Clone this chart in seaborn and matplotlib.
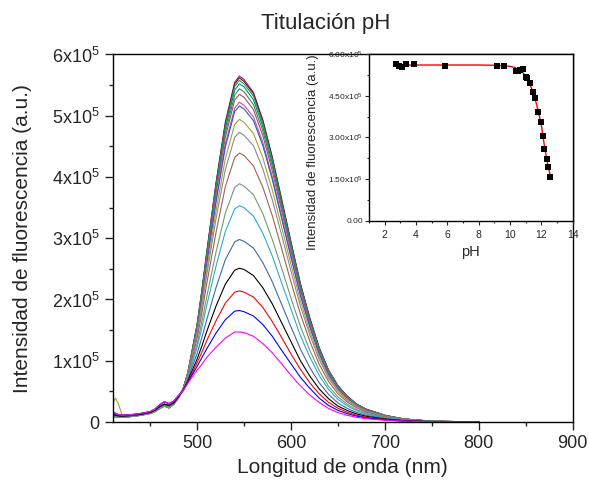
import pandas as pd
import seaborn as sns
import matplotlib.pyplot as plt
from matplotlib.ticker import MultipleLocator, FuncFormatter

# --- emission spectra (intensity in units of 1e3 counts) ---
base_nm = [410, 413, 416, 420, 430, 440, 450, 455, 460, 465, 470, 475, 480]
band_nm = [485, 490, 495, 500, 505, 510, 520, 530, 540, 545, 550, 560, 570, 580,
           590, 600, 610, 620, 630, 640, 650, 660, 670, 680, 700, 720, 740, 760, 780, 800]

# low-wavelength part of the spectra, a few overlapping variants
baselines = {
    "hi":    [17, 14, 12, 11, 12, 14, 17, 21, 28, 33, 30, 34, 43],
    "mid":   [13, 11, 10, 9.5, 10.5, 12.5, 15.5, 19, 25, 29, 27, 31, 41],
    "lo":    [9, 8, 7.5, 7.5, 9, 11, 14, 17, 22, 26, 23, 29, 39],
    "spike": [30, 39, 30, 12, 10, 12, 15, 18, 24, 28, 25, 30, 40],
}

band_values = [
    [54, 80, 120, 160, 215, 275, 390, 490, 555, 565, 559, 538, 493, 433, 364, 294, 226, 170, 121, 85, 59, 42, 29, 21, 11, 5, 2.5, 1.1, 0.6, 0.3],
    [54, 80, 119, 159, 214, 274, 388, 487, 552, 562, 556, 536, 491, 431, 362, 292, 225, 169, 121, 84, 59, 42, 29, 21, 11, 5, 2.5, 1.1, 0.6, 0.3],
    [54, 80, 119, 159, 213, 272, 385, 484, 548, 558, 552, 532, 487, 428, 359, 290, 223, 167, 120, 84, 59, 41, 29, 21, 10.6, 5, 2.5, 1.1, 0.6, 0.3],
    [54, 80, 118, 158, 211, 270, 382, 479, 542, 552, 547, 526, 482, 423, 356, 287, 221, 166, 119, 83, 58, 41, 29, 20, 10.5, 5, 2.5, 1.1, 0.6, 0.3],
    [54, 79, 117, 156, 209, 267, 376, 472, 534, 544, 539, 518, 475, 417, 350, 283, 218, 163, 117, 82, 57, 40, 28, 20, 10.3, 4.9, 2.4, 1.1, 0.5, 0.3],
    [54, 79, 117, 155, 206, 263, 371, 465, 526, 535, 530, 510, 467, 410, 345, 278, 214, 161, 115, 80, 56, 40, 28, 20, 10.2, 4.8, 2.4, 1.1, 0.5, 0.3],
    [53, 78, 115, 152, 202, 258, 362, 454, 513, 522, 517, 498, 456, 400, 336, 271, 209, 157, 112, 78, 55, 39, 27, 19, 9.9, 4.7, 2.3, 1.0, 0.5, 0.3],
    [53, 78, 114, 151, 201, 255, 358, 449, 507, 516, 511, 492, 451, 396, 332, 268, 206, 155, 111, 77, 54, 38, 27, 19, 9.8, 4.6, 2.3, 1.0, 0.5, 0.3],
    [53, 77, 112, 147, 194, 246, 344, 430, 486, 494, 489, 471, 431, 379, 318, 257, 198, 148, 106, 74, 52, 37, 26, 18, 9.4, 4.4, 2.2, 1.0, 0.5, 0.2],
    [53, 77, 110, 143, 188, 238, 331, 412, 465, 473, 468, 451, 413, 363, 305, 246, 189, 142, 102, 71, 50, 35, 25, 17.5, 9.0, 4.3, 2.1, 0.9, 0.5, 0.2],
    [53, 75, 106, 137, 178, 224, 309, 384, 432, 439, 435, 418, 383, 337, 283, 228, 176, 132, 94, 66, 46, 32.5, 23, 16, 8.3, 4.0, 2.0, 0.9, 0.4, 0.2],
    [53, 73, 101, 128, 164, 203, 277, 341, 383, 389, 385, 371, 340, 298, 251, 202, 156, 117, 84, 58, 41, 29, 20, 14.4, 7.4, 3.5, 1.8, 0.8, 0.4, 0.2],
    [52, 72, 97, 122, 154, 189, 254, 311, 348, 353, 350, 336, 308, 271, 227, 184, 141, 106, 76, 53, 37, 26, 18.4, 13.1, 6.7, 3.2, 1.6, 0.7, 0.4, 0.2],
    [52, 69, 91, 112, 138, 166, 219, 265, 294, 298, 295, 284, 260, 229, 192, 155, 119, 89, 64, 45, 31, 22, 15.5, 11, 5.7, 2.7, 1.3, 0.6, 0.3, 0.15],
    [52, 67, 85, 103, 124, 147, 189, 225, 248, 251, 249, 239, 219, 193, 162, 131, 100, 75, 54, 38, 26, 18.6, 13.1, 9.3, 4.8, 2.3, 1.1, 0.5, 0.25, 0.13],
    [51, 66, 81, 97, 114, 132, 165, 194, 212, 214, 212, 204, 187, 164, 138, 111, 86, 64, 46, 32, 22.5, 15.8, 11.1, 7.9, 4.1, 1.9, 1.0, 0.4, 0.2, 0.1],
    [51, 64, 78, 91, 105, 119, 145, 167, 181, 182, 180, 173, 159, 140, 117, 95, 73, 55, 39, 27, 19, 13.5, 9.5, 6.7, 3.5, 1.6, 0.8, 0.4, 0.2, 0.1],
    [51, 63, 74, 85, 94, 105, 122, 137, 147, 147, 146, 140, 128, 113, 95, 76, 59, 44, 32, 22, 15.4, 10.9, 7.6, 5.4, 2.8, 1.3, 0.7, 0.3, 0.15, 0.07],
]
band_base = ["mid", "mid", "lo", "mid", "lo", "mid", "mid", "lo", "spike", "lo",
             "mid", "lo", "mid", "mid", "mid", "hi", "hi", "hi"]
band_colors = ["#7b2fbe", "#8b0000", "#1fa040", "#008b8b", "#3c8c3c", "#a05080",
               "#d04f8f", "#3355cc", "#a3a336", "#8c8c8c", "#a0624f", "#6f9a73",
               "#2ea8d6", "#3d6aa8", "#000000", "#ff0000", "#0000ff", "#ff00ff"]

# --- inset: titration ---
ph = [2.74, 2.89, 3.1, 3.33, 3.87, 5.87, 9.2, 9.64, 10.4, 10.5, 10.63, 10.8,
      11.0, 11.1, 11.3, 11.46, 11.57, 11.78, 11.97, 12.1, 12.2, 12.33, 12.45, 12.58]
ph_int = [566, 559, 556, 566, 565, 560, 558, 557, 540, 541, 544, 546,
          520, 514, 496, 466, 444, 393, 356, 305, 260, 221, 194, 158]
fit_ph = [2.8, 4, 6, 8, 9, 9.5, 10, 10.3, 10.6, 10.8, 11.0, 11.2, 11.4, 11.6,
          11.8, 12.0, 12.2, 12.4, 12.58]
fit_int = [562, 562, 562, 562, 561, 560, 557, 553, 545, 536, 522, 502, 474, 440,
           396, 345, 268, 205, 160]

rows = []
for i, vals in enumerate(band_values):
    for nm, v in zip(base_nm + band_nm, baselines[band_base[i]] + vals):
        rows.append({"curve": f"s{i:02d}", "nm": nm, "I": v * 1e3})
spec = pd.DataFrame(rows)
titr = pd.DataFrame({"pH": ph, "I": [v * 1e3 for v in ph_int]})
fit = pd.DataFrame({"pH": fit_ph, "I": [v * 1e3 for v in fit_int]})

sns.set_theme(style="ticks", rc={"axes.linewidth": 1, "axes.edgecolor": "black"})
plt.rcParams["font.family"] = ["Liberation Sans", "DejaVu Sans"]
plt.rcParams["mathtext.fontset"] = "custom"
plt.rcParams["mathtext.rm"] = "Liberation Sans"
plt.rcParams["mathtext.default"] = "regular"

fig = plt.figure(figsize=(5.89, 4.98), dpi=100)
ax = fig.add_axes([0.1913, 0.1526, 0.781, 0.738])

sns.lineplot(data=spec, x="nm", y="I", hue="curve", palette=band_colors,
             estimator=None, sort=False, legend=False, linewidth=0.8, ax=ax)
ax.set_xlim(410, 900)
ax.set_ylim(0, 6e5)
ax.xaxis.set_major_locator(MultipleLocator(100))
ax.xaxis.set_minor_locator(MultipleLocator(50))
ax.yaxis.set_major_locator(MultipleLocator(1e5))
ax.yaxis.set_minor_locator(MultipleLocator(0.5e5))
ax.yaxis.set_major_formatter(FuncFormatter(
    lambda v, _: "0" if v == 0 else f"{int(round(v / 1e5))}x10$^{{5}}$"))
ax.tick_params(which="major", direction="out", length=6, width=1, labelsize=13)
ax.tick_params(which="minor", direction="out", length=3, width=1)
ax.set_xlabel("Longitud de onda (nm)", fontsize=15, labelpad=4)
ax.set_ylabel("Intensidad de fluorescencia (a.u.)", fontsize=15, labelpad=14)
fig.text(0.553, 0.953, "Titulación pH", fontsize=16, ha="center", va="center")

# inset
axin = fig.add_axes([0.6265, 0.5572, 0.3458, 0.3334])
sns.lineplot(data=fit, x="pH", y="I", color="red", linewidth=1, ax=axin)
sns.scatterplot(data=titr, x="pH", y="I", marker="s", color="black", s=20,
                edgecolor="black", linewidth=0, ax=axin, zorder=3)
axin.set_xlim(1, 14)
axin.set_ylim(0, 6e5)
axin.xaxis.set_major_locator(MultipleLocator(2))
axin.xaxis.set_minor_locator(MultipleLocator(1))
axin.yaxis.set_major_locator(MultipleLocator(1.5e5))
axin.yaxis.set_minor_locator(MultipleLocator(0.75e5))
axin.yaxis.set_major_formatter(FuncFormatter(
    lambda v, _: "0.00" if v == 0 else f"{v / 1e5:.2f}x10$^{{5}}$"))
axin.tick_params(which="major", direction="out", length=3, width=0.8, labelsize=7.5)
axin.tick_params(which="minor", direction="out", length=1.5, width=0.8)
axin.tick_params(axis="y", which="major", labelsize=6, pad=1.5)
axin.set_xlabel("pH", fontsize=10.5)
axin.set_ylabel("Intensidad de fluorescencia (a.u.)", fontsize=9.5)
axin.yaxis.set_label_coords(-0.245, 0.41)

fig.savefig("out.png", dpi=100)
